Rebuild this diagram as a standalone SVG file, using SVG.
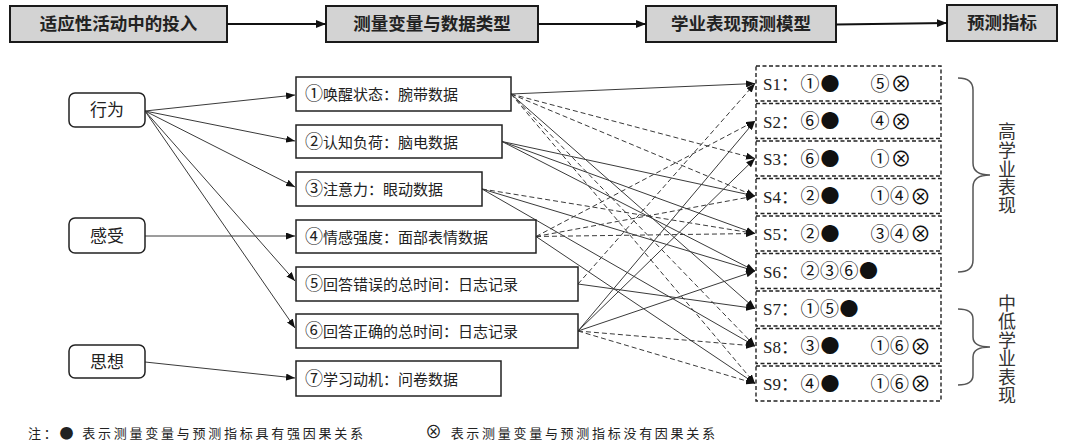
<svg xmlns="http://www.w3.org/2000/svg" width="1065" height="447" viewBox="0 0 1065 447">
<style>
.hdr{fill:#d3d3d3;stroke:#1a1a1a;stroke-width:2}
.htx{font-family:"Noto Sans CJK SC",sans-serif;font-weight:bold;font-size:17.5px;fill:#222;text-anchor:middle}
.lbox{fill:#fff;stroke:#222;stroke-width:1.5}
.mbox{fill:#fff;stroke:#222;stroke-width:1.5}
.srow{fill:none;stroke:#222;stroke-width:1.4;stroke-dasharray:4 2.5}
.tx{font-family:"Liberation Serif","Noto Sans CJK SC",serif;font-size:15px;fill:#222}
.cd{font-size:18px}
.ltx{font-family:"Liberation Serif","Noto Sans CJK SC",serif;font-size:17px;fill:#222;text-anchor:middle}
.stx{font-family:"Liberation Serif","Noto Sans CJK SC",serif;font-size:17px;fill:#222}
.sym{font-family:"Noto Sans CJK SC","DejaVu Sans",sans-serif;font-size:19px;fill:#111;text-anchor:middle}
.big{font-size:19px}
.ox{font-size:21px}
.vt{font-family:"Liberation Serif","Noto Sans CJK SC",serif;font-size:18px;fill:#333;text-anchor:middle}
.note{font-family:"Liberation Serif","Noto Sans CJK SC",serif;font-size:13px;fill:#222}
.nb{font-family:"Noto Sans CJK SC",sans-serif;font-size:14px}
.nx{font-family:"Noto Sans CJK SC",sans-serif;font-size:17px}
.c{stroke:#3a3a3a;stroke-width:1;fill:none;marker-end:url(#ah)}
.d{stroke-dasharray:5 3}
.ha{stroke:#111;stroke-width:2.2;fill:none;marker-end:url(#hah)}
.br{stroke:#555;stroke-width:1.5;fill:none}
</style>
<defs>
<marker id="ah" markerUnits="userSpaceOnUse" markerWidth="9" markerHeight="7" refX="9" refY="3.5" orient="auto"><path d="M0,0 L9,3.5 L0,7 z" fill="#111"/></marker>
<marker id="hah" markerUnits="userSpaceOnUse" markerWidth="10" markerHeight="8" refX="10" refY="4" orient="auto"><path d="M0,0 L10,4 L0,8 z" fill="#111"/></marker>
</defs>

<g id="header">
<g id="h1"><rect class="hdr" x="10" y="6" width="217" height="36"/><text class="htx" x="118.5" y="30">适应性活动中的投入</text></g>
<g id="h2"><rect class="hdr" x="326" y="6" width="212" height="36"/><text class="htx" x="432" y="30">测量变量与数据类型</text></g>
<g id="h3"><rect class="hdr" x="646" y="6" width="190" height="36"/><text class="htx" x="741" y="30">学业表现预测模型</text></g>
<g id="h4"><rect class="hdr" x="947" y="5" width="110" height="36"/><text class="htx" x="1002" y="29">预测指标</text></g>
</g>

<g id="connectors">
<line class="ha" x1="227" y1="24" x2="326" y2="24"/>
<line class="ha" x1="538" y1="24" x2="646" y2="24"/>
<line class="ha" x1="836" y1="24.5" x2="947" y2="23"/>
<line class="c" x1="145" y1="111" x2="295" y2="95"/>
<line class="c" x1="145" y1="111" x2="295" y2="141"/>
<line class="c" x1="145" y1="111" x2="295" y2="187"/>
<line class="c" x1="145" y1="111" x2="295" y2="281"/>
<line class="c" x1="145" y1="111" x2="295" y2="328"/>
<line class="c" x1="145" y1="236" x2="295" y2="236"/>
<line class="c" x1="145" y1="362" x2="295" y2="378"/>
<line class="c" x1="511" y1="94" x2="755" y2="83.5"/>
<line class="c d" x1="511" y1="94" x2="755" y2="158.5"/>
<line class="c d" x1="511" y1="94" x2="755" y2="196"/>
<line class="c" x1="511" y1="94" x2="755" y2="308.5"/>
<line class="c d" x1="511" y1="94" x2="755" y2="346"/>
<line class="c d" x1="511" y1="94" x2="755" y2="383.5"/>
<line class="c" x1="502" y1="141.5" x2="755" y2="196"/>
<line class="c" x1="502" y1="141.5" x2="755" y2="233.5"/>
<line class="c" x1="502" y1="141.5" x2="755" y2="271"/>
<line class="c d" x1="482" y1="189" x2="755" y2="233.5"/>
<line class="c" x1="482" y1="189" x2="755" y2="271"/>
<line class="c" x1="482" y1="189" x2="755" y2="346"/>
<line class="c d" x1="536" y1="236.5" x2="755" y2="121"/>
<line class="c d" x1="536" y1="236.5" x2="755" y2="196"/>
<line class="c d" x1="536" y1="236.5" x2="755" y2="233.5"/>
<line class="c" x1="536" y1="236.5" x2="755" y2="383.5"/>
<line class="c d" x1="578" y1="284" x2="755" y2="83.5"/>
<line class="c" x1="578" y1="284" x2="755" y2="308.5"/>
<line class="c" x1="578" y1="331" x2="755" y2="121"/>
<line class="c" x1="578" y1="331" x2="755" y2="158.5"/>
<line class="c" x1="578" y1="331" x2="755" y2="271"/>
<line class="c d" x1="578" y1="331" x2="755" y2="346"/>
<line class="c d" x1="578" y1="331" x2="755" y2="383.5"/>
</g>

<g id="n-xingwei"><rect class="lbox" x="69" y="93" width="76" height="34" rx="6"/><text class="ltx" x="107" y="116">行为</text></g>
<g id="n-ganshou"><rect class="lbox" x="69" y="218" width="76" height="35" rx="6"/><text class="ltx" x="107" y="242">感受</text></g>
<g id="n-sixiang"><rect class="lbox" x="69" y="345" width="76" height="33" rx="6"/><text class="ltx" x="107" y="368">思想</text></g>

<g id="m1"><rect class="mbox" x="296" y="77" width="215" height="34"/><text class="tx" x="305" y="100"><tspan class="cd">①</tspan>唤醒状态：腕带数据</text></g>
<g id="m2"><rect class="mbox" x="296" y="125" width="206" height="33"/><text class="tx" x="305" y="148"><tspan class="cd">②</tspan>认知负荷：脑电数据</text></g>
<g id="m3"><rect class="mbox" x="296" y="172" width="186" height="34"/><text class="tx" x="305" y="195"><tspan class="cd">③</tspan>注意力：眼动数据</text></g>
<g id="m4"><rect class="mbox" x="296" y="220" width="240" height="33"/><text class="tx" x="305" y="243"><tspan class="cd">④</tspan>情感强度：面部表情数据</text></g>
<g id="m5"><rect class="mbox" x="296" y="267" width="282" height="34"/><text class="tx" x="305" y="290"><tspan class="cd">⑤</tspan>回答错误的总时间：日志记录</text></g>
<g id="m6"><rect class="mbox" x="296" y="314" width="282" height="34"/><text class="tx" x="305" y="337"><tspan class="cd">⑥</tspan>回答正确的总时间：日志记录</text></g>
<g id="m7"><rect class="mbox" x="296" y="361" width="205" height="35"/><text class="tx" x="305" y="385"><tspan class="cd">⑦</tspan>学习动机：问卷数据</text></g>

<g id="s1"><rect class="srow" x="756" y="66" width="185" height="35"/><text class="stx" x="763" y="90">S1：</text><text class="sym"><tspan x="810" y="90.5">①</tspan><tspan class="big" x="830" y="90.5">●</tspan><tspan x="880" y="90.5">⑤</tspan><tspan class="ox" x="901" y="91">⊗</tspan></text></g>
<g id="s2"><rect class="srow" x="756" y="103.5" width="185" height="35"/><text class="stx" x="763" y="127.5">S2：</text><text class="sym"><tspan x="810" y="128">⑥</tspan><tspan class="big" x="830" y="128">●</tspan><tspan x="880" y="128">④</tspan><tspan class="ox" x="901" y="128.5">⊗</tspan></text></g>
<g id="s3"><rect class="srow" x="756" y="141" width="185" height="35"/><text class="stx" x="763" y="165">S3：</text><text class="sym"><tspan x="810" y="165.5">⑥</tspan><tspan class="big" x="830" y="165.5">●</tspan><tspan x="880" y="165.5">①</tspan><tspan class="ox" x="901" y="166">⊗</tspan></text></g>
<g id="s4"><rect class="srow" x="756" y="178.5" width="185" height="35"/><text class="stx" x="763" y="202.5">S4：</text><text class="sym"><tspan x="810" y="203">②</tspan><tspan class="big" x="830" y="203">●</tspan><tspan x="880" y="203">①</tspan><tspan x="899.5" y="203">④</tspan><tspan class="ox" x="920.5" y="203.5">⊗</tspan></text></g>
<g id="s5"><rect class="srow" x="756" y="216" width="185" height="35"/><text class="stx" x="763" y="240">S5：</text><text class="sym"><tspan x="810" y="240.5">②</tspan><tspan class="big" x="830" y="240.5">●</tspan><tspan x="880" y="240.5">③</tspan><tspan x="899.5" y="240.5">④</tspan><tspan class="ox" x="920.5" y="241">⊗</tspan></text></g>
<g id="s6"><rect class="srow" x="756" y="253.5" width="185" height="35"/><text class="stx" x="763" y="277.5">S6：</text><text class="sym"><tspan x="810" y="278">②</tspan><tspan x="829.5" y="278">③</tspan><tspan x="849" y="278">⑥</tspan><tspan class="big" x="868.5" y="278">●</tspan></text></g>
<g id="s7"><rect class="srow" x="756" y="291" width="185" height="35"/><text class="stx" x="763" y="315">S7：</text><text class="sym"><tspan x="810" y="315.5">①</tspan><tspan x="829.5" y="315.5">⑤</tspan><tspan class="big" x="849" y="315.5">●</tspan></text></g>
<g id="s8"><rect class="srow" x="756" y="328.5" width="185" height="35"/><text class="stx" x="763" y="352.5">S8：</text><text class="sym"><tspan x="810" y="353">③</tspan><tspan class="big" x="830" y="353">●</tspan><tspan x="880" y="353">①</tspan><tspan x="899.5" y="353">⑥</tspan><tspan class="ox" x="920.5" y="353.5">⊗</tspan></text></g>
<g id="s9"><rect class="srow" x="756" y="366" width="185" height="35"/><text class="stx" x="763" y="390">S9：</text><text class="sym"><tspan x="810" y="390.5">④</tspan><tspan class="big" x="830" y="390.5">●</tspan><tspan x="880" y="390.5">①</tspan><tspan x="899.5" y="390.5">⑥</tspan><tspan class="ox" x="920.5" y="391">⊗</tspan></text></g>

<g id="high">
<path class="br" d="M958,78 Q973,78 973,90 L973,163 Q973,175 990,175 Q973,175 973,187 L973,260 Q973,272 958,272"/>
<text class="vt"><tspan x="1007" y="138">高</tspan><tspan x="1007" y="157">学</tspan><tspan x="1007" y="176">业</tspan><tspan x="1007" y="194">表</tspan><tspan x="1007" y="212">现</tspan></text>
</g>
<g id="low">
<path class="br" d="M958,309 Q973,309 973,319 L973,337 Q973,347 990,347 Q973,347 973,357 L973,375 Q973,385 958,385"/>
<text class="vt"><tspan x="1007" y="310">中</tspan><tspan x="1007" y="328">低</tspan><tspan x="1007" y="347">学</tspan><tspan x="1007" y="365">业</tspan><tspan x="1007" y="384">表</tspan><tspan x="1007" y="402">现</tspan></text>
</g>

<g id="note">
<text class="note" x="28" y="438" textLength="335" lengthAdjust="spacing">注：<tspan class="nb">●</tspan> 表示测量变量与预测指标具有强因果关系</text>
<text class="note" x="425" y="438" textLength="290" lengthAdjust="spacing"><tspan class="nx">⊗</tspan> 表示测量变量与预测指标没有因果关系</text>
</g>
</svg>
